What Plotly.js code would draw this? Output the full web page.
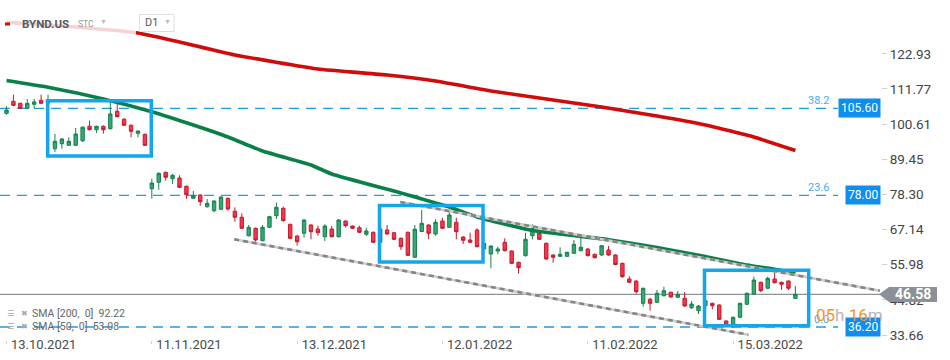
<!DOCTYPE html>
<html><head><meta charset="utf-8">
<script src="https://cdn.plot.ly/plotly-3.0.1.min.js"></script>
<style>html,body{margin:0;padding:0;background:#fff}#chart{width:950px;height:360px}</style>
</head><body><div id="chart"></div>
<script>
// ---- data ----
const dates = [
'2021-10-13','2021-10-14','2021-10-15','2021-10-18','2021-10-19','2021-10-20','2021-10-21','2021-10-22','2021-10-25','2021-10-26','2021-10-27','2021-10-28','2021-10-29',
'2021-11-01','2021-11-02','2021-11-03','2021-11-04','2021-11-05','2021-11-08','2021-11-09','2021-11-10','2021-11-11','2021-11-12','2021-11-15','2021-11-16','2021-11-17','2021-11-18','2021-11-19','2021-11-22','2021-11-23','2021-11-24','2021-11-26','2021-11-29','2021-11-30',
'2021-12-01','2021-12-02','2021-12-03','2021-12-06','2021-12-07','2021-12-08','2021-12-09','2021-12-10','2021-12-13','2021-12-14','2021-12-15','2021-12-16','2021-12-17','2021-12-20','2021-12-21','2021-12-22','2021-12-23','2021-12-27','2021-12-28','2021-12-29','2021-12-30','2021-12-31',
'2022-01-03','2022-01-04','2022-01-05','2022-01-06','2022-01-07','2022-01-10','2022-01-11','2022-01-12','2022-01-13','2022-01-14','2022-01-18','2022-01-19','2022-01-20','2022-01-21','2022-01-24','2022-01-25','2022-01-26','2022-01-27','2022-01-28','2022-01-31',
'2022-02-01','2022-02-02','2022-02-03','2022-02-04','2022-02-07','2022-02-08','2022-02-09','2022-02-10','2022-02-11','2022-02-14','2022-02-15','2022-02-16','2022-02-17','2022-02-18','2022-02-22','2022-02-23','2022-02-24','2022-02-25','2022-02-28',
'2022-03-01','2022-03-02','2022-03-03','2022-03-04','2022-03-07','2022-03-08','2022-03-09','2022-03-10','2022-03-11','2022-03-14','2022-03-15','2022-03-16','2022-03-17','2022-03-18','2022-03-21','2022-03-22','2022-03-23','2022-03-24','2022-03-25','2022-03-28'];

const openP = [104.04,107.85,107.22,105.63,106.9,108.17,107.31,92.8,94.39,93.88,93.88,95.34,99.91,98.84,99.91,99.15,104.68,102.14,100.23,97.69,97.38,
80.11,82.14,85.31,83.28,83.5,80.87,77.06,78.11,74.39,73.12,73.57,77.06,72.93,71.03,65.18,67.53,63.6,67.85,71.53,73.88,68.8,
65.09,65.95,68.58,67.31,64.87,67.31,64.87,69.85,68.26,67.72,65.63,66.26,63.09,66.99,66.14,64.36,66.26,58.33,66.52,68.58,65.72,
69.85,67.85,69.44,64.77,63.82,66.99,60.96,59.38,60.33,63.09,60.33,56.74,58.84,65.18,65.95,62.77,59.06,58.64,58.64,59.6,60.42,
60.96,59.28,59.06,60.64,59.06,56.42,51.44,50.8,43.72,44.99,44.04,46.14,47.22,45.63,45.31,42.33,41.38,42.96,43.72,43.18,38.11,
36.3,39.28,43.41,46.68,50.39,48.49,51.44,50.39,50.8,45.31];
const highP = [106.26,109.95,107.4,108.58,108.58,109.95,109.95,97.47,96.2,96.42,99.38,99.9,101.69,100.1,100.23,107.85,106.99,102.55,100.5,98.6,97.6,
83.28,85.2,85.5,84.77,84.36,81.1,79.38,78.3,76.84,76.4,77.7,77.3,74.2,72.3,68.58,67.8,68.58,71.5,75.66,74.39,69.0,
65.3,70.4,68.8,68.36,68.8,68.26,70.4,70.0,68.4,68.36,67.72,66.5,67.5,68.58,66.3,64.6,66.5,68.58,73.34,68.8,70.39,
70.9,73.12,70.9,65.0,66.14,67.53,63.0,62.1,61.69,64.36,60.5,56.9,66.14,68.8,66.45,63.0,59.2,61.5,60.1,63.82,64.55,
61.2,59.5,62.2,61.91,59.3,56.6,52.3,51.0,48.7,45.5,47.95,48.99,47.4,47.63,47.31,44.45,43.1,44.8,43.9,43.4,38.3,
39.5,43.9,47.1,52.17,50.6,52.17,53.44,50.6,51.0,49.22];
const lowP = [103.6,106.26,105.5,105.5,105.63,107.0,107.1,91.76,92.8,93.7,93.6,94.93,98.6,97.79,97.57,98.9,102.7,100.0,96.42,96.42,93.7,
76.93,79.79,82.64,81.6,80.3,76.84,76.9,74.71,74.07,72.61,73.3,73.12,69.63,67.3,64.9,63.28,63.4,67.6,70.49,69.7,64.1,
62.01,64.55,64.04,65.18,63.5,64.6,64.6,67.85,67.3,66.0,65.09,62.9,62.9,65.5,63.8,60.64,58.7,58.1,66.3,64.04,65.18,
67.3,67.6,64.04,62.55,62.9,61.5,60.7,54.84,59.28,60.2,56.2,53.12,58.6,64.04,63.8,57.6,56.61,58.4,58.4,59.4,60.2,
58.6,58.0,58.8,58.8,55.8,51.85,50.2,46.77,42.64,41.38,43.8,45.9,45.5,45.4,42.6,41.92,40.33,42.7,41.82,38.4,36.5,
36.1,39.0,43.2,46.5,47.31,48.3,50.0,47.95,47.95,45.1];
const closeP = [105.09,106.58,105.63,107.22,107.63,107.22,108.26,95.15,95.88,95.15,97.47,99.6,98.84,99.91,98.84,103.82,102.96,100.23,98.33,98.42,93.88,
81.91,84.99,83.72,84.36,80.55,78.2,77.79,75.98,75.47,76.2,77.47,73.66,71.03,67.53,67.85,63.82,67.85,71.22,74.2,69.95,64.36,
63.28,70.17,66.45,66.14,68.26,64.87,70.17,68.36,67.53,66.26,66.68,63.09,67.31,65.72,64.04,61.69,58.96,67.22,69.12,65.95,69.44,
67.53,71.76,66.45,63.72,63.09,61.69,62.77,61.91,60.96,60.42,56.42,55.03,64.04,67.53,64.04,57.79,58.33,59.28,59.91,62.45,61.5,
58.84,58.2,62.01,59.06,56.04,52.17,50.39,47.41,48.49,43.72,46.9,47.72,45.72,46.58,42.87,43.5,42.87,44.55,42.96,38.64,36.84,
39.28,43.72,46.9,51.12,47.72,51.66,50.26,49.76,48.49,46.58];

const sma200Date = ['2021-10-13','2021-10-27','2021-11-09','2021-11-17','2021-11-30','2021-12-16','2021-12-31','2022-01-11','2022-01-24','2022-02-03','2022-02-15','2022-02-28','2022-03-09','2022-03-18','2022-03-28'];
const sma200Val = [132.9,131.44,129.53,126.68,122.55,118.1,116.2,114.3,111.12,108.58,106.04,103.18,100.33,96.52,92.22];
const sma50Date = ['2021-10-13','2021-10-21','2021-11-02','2021-11-11','2021-11-19','2021-11-29','2021-12-06','2021-12-15','2021-12-20','2022-01-04','2022-01-11','2022-01-13','2022-01-20','2022-02-01','2022-02-08','2022-02-16','2022-02-28','2022-03-09','2022-03-17','2022-03-24','2022-03-28'];
const sma50Val = [114.45,112.3,108.58,104.55,100.33,96.52,92.07,87.63,84.77,78.74,75.57,74.3,71.12,66.84,65.5,63.92,61.44,58.58,55.88,54.14,53.08];

const levels = [105.60, 78.00, 36.20];
const fibLabels = ['38.2', '23.6', '0.0'];
const lastPrice = 46.58;
const yTicks = [122.93, 111.77, 100.61, 89.45, 78.30, 67.14, 55.98, 44.82, 33.66];
const xTickDates = ['2021-10-13','2021-11-11','2021-12-13','2022-01-12','2022-02-11','2022-03-15'];
const legendTexts = ['SMA [200,  0]  92.22', 'SMA [50,  0]  53.08'];
// channel lines (bar index, price)
const upperTrendIdx = [56.9, 126.2], upperTrendVal = [75.88, 47.72];
const lowerTrendIdx = [32.9, 107.2], lowerTrendVal = [64.04, 33.76];
// highlighted boxes (bar index range, price range)
const boxIdx = [[5.95, 20.92], [53.9, 68.86], [100.87, 115.92]];
const boxVal = [[90.49, 108.04], [56.84, 74.77], [36.61, 54.23]];

// ---- build ----
const idx = dates.map((d, i) => i);
const di = d => dates.indexOf(d);
const fmtDate = d => d.slice(8, 10) + '.' + d.slice(5, 7) + '.' + d.slice(0, 4);
const F = 'Roboto, "Noto Sans", sans-serif';

const W = 950, H = 360, ML = 0, MR = 69, MT = 0, MB = 20;
const PW = W - ML - MR, PH = H - MT - MB;
const px2paperX = x => (x - ML) / PW;
const px2paperY = y => 1 - (y - MT) / PH;

const traces = [
  {type: 'scatter', mode: 'lines', x: sma200Date.map(di), y: sma200Val,
   line: {color: '#d10a0a', width: 3.6, shape: 'spline', smoothing: 0.4}, hoverinfo: 'skip'},
  {type: 'scatter', mode: 'lines', x: sma50Date.map(di), y: sma50Val,
   line: {color: '#0a8048', width: 3.6, shape: 'spline', smoothing: 0.5}, hoverinfo: 'skip'},
  {type: 'candlestick', x: idx, open: openP, high: highP, low: lowP, close: closeP,
   increasing: {line: {color: '#16804d', width: 1}, fillcolor: '#35a874'},
   decreasing: {line: {color: '#c8182c', width: 1}, fillcolor: '#f2394d'},
   whiskerwidth: 0, hoverinfo: 'skip'}
];

const shapes = [];
levels.forEach(v => shapes.push({type: 'line', xref: 'paper', yref: 'y', x0: 0, x1: px2paperX(838), y0: v, y1: v,
  line: {color: '#1c9be6', width: 1.3, dash: '10px,7px'}, layer: 'below'}));
shapes.push({type: 'line', xref: 'paper', yref: 'y', x0: 0, x1: 1, y0: lastPrice, y1: lastPrice,
  line: {color: '#8c9398', width: 1.2}, layer: 'below'});
[[upperTrendIdx, upperTrendVal], [lowerTrendIdx, lowerTrendVal]].forEach(([xi, yv]) => {
  shapes.push({type: 'line', xref: 'x', yref: 'y', x0: xi[0], x1: xi[1], y0: yv[0], y1: yv[1],
    line: {color: '#cdcdcd', width: 2.6}, layer: 'above'});
  shapes.push({type: 'line', xref: 'x', yref: 'y', x0: xi[0], x1: xi[1], y0: yv[0], y1: yv[1],
    line: {color: '#858585', width: 2.6, dash: '5px,4px'}, layer: 'above'});
});
boxIdx.forEach((b, k) => shapes.push({type: 'rect', xref: 'x', yref: 'y', x0: b[0], x1: b[1],
  y0: boxVal[k][0], y1: boxVal[k][1], line: {color: '#12a6ec', width: 3.5}, fillcolor: 'rgba(0,0,0,0)', layer: 'above'}));
// header veil
shapes.push({type: 'rect', xref: 'paper', yref: 'paper', x0: 0, x1: px2paperX(136), y0: px2paperY(36), y1: px2paperY(12),
  fillcolor: 'rgba(255,255,255,0.82)', line: {width: 0}, layer: 'above'});
// D1 box
shapes.push({type: 'rect', xref: 'paper', yref: 'paper', x0: px2paperX(139.5), x1: px2paperX(174), y0: px2paperY(31.5), y1: px2paperY(14.5),
  fillcolor: '#fff', line: {color: '#dedede', width: 1}, layer: 'above'});
// red marker in header
shapes.push({type: 'line', xref: 'paper', yref: 'paper', x0: px2paperX(5), x1: px2paperX(10), y0: px2paperY(24), y1: px2paperY(24),
  line: {color: '#d10a0a', width: 3}, layer: 'above'});
// price tag
const tag = [[879, 294.3], [889, 287], [937, 287], [937, 302], [889, 302]];
shapes.push({type: 'path', xref: 'paper', yref: 'paper',
  path: 'M' + tag.map(p => px2paperX(p[0]) + ',' + px2paperY(p[1])).join(' L') + ' Z',
  fillcolor: '#8a9297', line: {width: 0}, layer: 'above'});

const ann = [];
levels.forEach((v, k) => {
  ann.push({xref: 'paper', yref: 'y', x: px2paperX(831), y: v, yshift: 8, xanchor: 'right', yanchor: 'middle',
    text: fibLabels[k], showarrow: false, font: {family: F, size: 11, color: '#45aef0'}});
  ann.push({xref: 'paper', yref: 'y', x: 1, y: v, xanchor: 'right', yanchor: 'middle', text: v.toFixed(2),
    showarrow: false, bgcolor: '#0d8ef0', borderpad: 2, font: {family: F, size: 12, color: '#fff'}});
});
ann.push({xref: 'paper', yref: 'y', x: px2paperX(913), y: lastPrice, xanchor: 'center', yanchor: 'middle',
  text: '<b>' + lastPrice.toFixed(2) + '</b>', showarrow: false, font: {family: F, size: 14, color: '#fff'}});
ann.push({xref: 'paper', yref: 'paper', x: px2paperX(885), y: px2paperY(315), xanchor: 'right', yanchor: 'middle',
  text: '<span style="color:#f7941d">05</span><span style="color:#b5b5b5">h</span> <span style="color:#f7941d">16</span><span style="color:#b5b5b5">m</span>',
  showarrow: false, font: {family: F, size: 17, color: '#f7941d'}});
// header texts
ann.push({xref: 'paper', yref: 'paper', x: px2paperX(20), y: px2paperY(24), xanchor: 'left', yanchor: 'middle',
  text: '<b>BYND.US</b>', showarrow: false, font: {family: F, size: 11.5, color: '#555b61'}});
ann.push({xref: 'paper', yref: 'paper', x: px2paperX(76), y: px2paperY(24.5), xanchor: 'left', yanchor: 'middle',
  text: 'STC', showarrow: false, font: {family: F, size: 8.5, color: '#9a9a9a'}});
ann.push({xref: 'paper', yref: 'paper', x: px2paperX(98), y: px2paperY(22), xanchor: 'left', yanchor: 'middle',
  text: '▼', showarrow: false, font: {family: F, size: 7, color: '#b9b9b9'}});
ann.push({xref: 'paper', yref: 'paper', x: px2paperX(143), y: px2paperY(23), xanchor: 'left', yanchor: 'middle',
  text: 'D1', showarrow: false, font: {family: F, size: 11, color: '#5a5a5a'}});
ann.push({xref: 'paper', yref: 'paper', x: px2paperX(162), y: px2paperY(22.5), xanchor: 'left', yanchor: 'middle',
  text: '▼', showarrow: false, font: {family: F, size: 7, color: '#b9b9b9'}});
// legend
legendTexts.forEach((t, k) => {
  const y = 313.5 + k * 13;
  ann.push({xref: 'paper', yref: 'paper', x: px2paperX(5), y: px2paperY(y), xanchor: 'left', yanchor: 'middle',
    text: '☰', showarrow: false, font: {family: '"DejaVu Sans"', size: 8, color: '#aaaaaa'}});
  ann.push({xref: 'paper', yref: 'paper', x: px2paperX(19), y: px2paperY(y), xanchor: 'left', yanchor: 'middle',
    text: '✖', showarrow: false, font: {family: '"DejaVu Sans"', size: 8, color: '#aaaaaa'}});
  ann.push({xref: 'paper', yref: 'paper', x: px2paperX(30), y: px2paperY(y), xanchor: 'left', yanchor: 'middle',
    text: t, showarrow: false, font: {family: F, size: 10.5, color: '#666'}});
});

const yBottom = lastPrice - (MT + PH - 294.3) / 3.15;
const yTop = lastPrice + (294.3 - MT) / 3.15;
const xLeft = -6.5 / 6.92, xRight = (PW - 6.5) / 6.92;

const layout = {
  width: W, height: H, margin: {l: ML, r: MR, t: MT, b: MB, pad: 0},
  paper_bgcolor: '#fff', plot_bgcolor: '#fff', showlegend: false, hovermode: false,
  font: {family: F},
  xaxis: {type: 'linear', range: [xLeft, xRight], showgrid: false, zeroline: false, showline: false, automargin: false,
    tickvals: xTickDates.map(di), ticktext: xTickDates.map(fmtDate), ticks: 'outside', ticklen: 3, tickcolor: '#cfcfcf',
    ticklabelposition: 'outside right', ticklabelstandoff: -8, ticklabelshift: 4, tickfont: {family: F, size: 13, color: '#4a4a4a'},
    rangeslider: {visible: false}, fixedrange: true},
  yaxis: {side: 'right', range: [yBottom, yTop], showgrid: false, zeroline: false, showline: false, automargin: false,
    tickvals: yTicks, ticktext: yTicks.map(v => v.toFixed(2)), ticks: 'outside', ticklen: 5, tickcolor: '#cfcfcf',
    tickfont: {family: F, size: 13.5, color: '#444'}, fixedrange: true},
  shapes: shapes, annotations: ann
};
Plotly.newPlot('chart', traces, layout, {staticPlot: true, displayModeBar: false});
</script></body></html>
